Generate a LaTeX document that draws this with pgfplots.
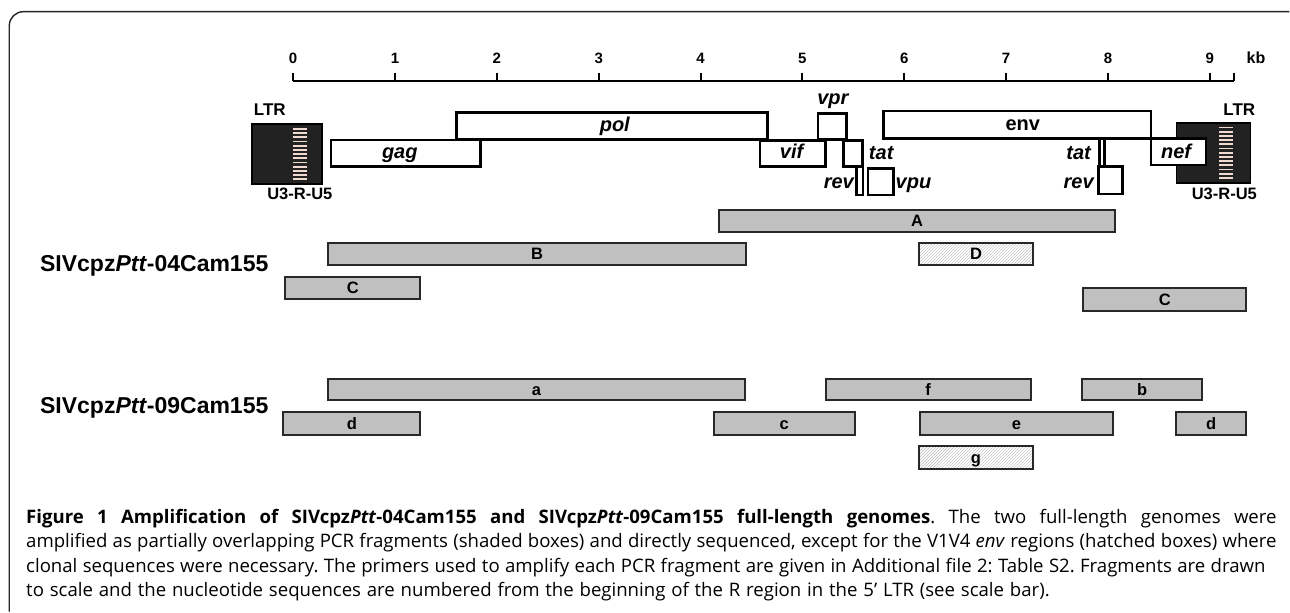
\documentclass[border=0pt]{standalone}
\usepackage{pgfplots}
\pgfplotsset{compat=1.18}
\usetikzlibrary{patterns}
\usepackage{fontspec}
\setmainfont{Liberation Sans}
\newfontfamily\capfont{Open Sans}
\definecolor{fraggray}{RGB}{192,192,192}
\definecolor{edge}{RGB}{40,40,40}
\definecolor{ltrfill}{RGB}{34,34,34}
\definecolor{stripe}{RGB}{240,218,208}
\tikzset{
  genelab/.style={anchor=base, inner sep=0pt, font=\bfseries\itshape\fontsize{20}{24}\selectfont},
  uplab/.style={anchor=base, inner sep=0pt, font=\bfseries\fontsize{17}{20}\selectfont},
  fraglab/.style={anchor=base, inner sep=0pt, font=\bfseries\fontsize{16.5}{19}\selectfont},
  caplab/.style={anchor=base west, inner sep=0pt, font=\capfont\fontsize{18.6}{22}\selectfont\frenchspacing},
}
\newcommand{\gene}[4]{\addplot[draw=black, fill=white, line width=2.6pt] coordinates {(#1,#3) (#2,#3) (#2,#4) (#1,#4)} -- cycle;}
\newcommand{\ltr}[4]{\addplot[draw=black, fill=ltrfill, line width=1.5pt] coordinates {(#1,#3) (#2,#3) (#2,#4) (#1,#4)} -- cycle;}
\newcommand{\frag}[4]{\addplot[draw=edge, fill=fraggray, line width=2pt] coordinates {(#1,#3) (#2,#3) (#2,#4) (#1,#4)} -- cycle;}
\newcommand{\hatchfrag}[4]{\addplot[draw=edge, fill=white, line width=2pt, postaction={pattern=north east lines, pattern color=gray!55}] coordinates {(#1,#3) (#2,#3) (#2,#4) (#1,#4)} -- cycle;}
\begin{document}
\begin{tikzpicture}
\begin{axis}[
  x=101.9pt, y=1pt, y dir=reverse,
  xmin=-2.8783, xmax=9.7811, ymin=0, ymax=610,
  hide axis, clip=false, scale only axis,
  every axis plot/.append style={mark=none},
]
\path (rel axis cs:0,0) rectangle (rel axis cs:1,1);
% frame
\draw[line width=1.4pt, black!85, rounded corners=14pt] (axis cs:-2.787,612) -- (axis cs:-2.787,11.7) -- (axis cs:9.781,11.7);

% scale bar
\addplot[black, line width=2pt] coordinates {(0,80.7) (9.235,80.7)};
\pgfplotsinvokeforeach{0,1,2,3,4,5,6,7,8,9}{
  \addplot[black, line width=2pt] coordinates {(#1,72.7) (#1,80.7)};
  \node[anchor=base, inner sep=0pt, font=\bfseries\fontsize{15}{17}\selectfont] at (axis cs:#1,63.3) {#1};
}
\addplot[black, line width=2pt] coordinates {(9.235,72.7) (9.235,80.7)};
\node[anchor=base, inner sep=0pt, font=\bfseries\fontsize{16}{18}\selectfont] at (axis cs:9.454,63.3) {kb};

% genes
\gene{1.604}{4.656}{112.7}{139.3}
\gene{0.370}{1.842}{140}{166.7}
\gene{4.582}{5.228}{140.3}{166.7}
\gene{5.152}{5.431}{113.3}{139.3}
\gene{5.404}{5.588}{140.3}{166.7}
\gene{5.529}{5.594}{166.7}{195}
\gene{5.643}{5.895}{168.3}{195}
\gene{5.797}{8.424}{111}{138.3}
\gene{7.917}{7.966}{138.3}{166.7}
\gene{7.910}{8.145}{166.7}{194.3}
\ltr{8.675}{9.398}{123.3}{183.3}
\gene{8.424}{8.964}{138.3}{165}
\ltr{-0.402}{0.285}{124}{184}
\pgfplotsinvokeforeach{129,133.2,137.4,141.6,145.8,150,154.2,158.4,162.6,166.8,171,175.2,179.4}{
  \draw[stripe, line width=1.8pt] (axis cs:0.0,#1) -- (axis cs:0.1315,#1);
}
\pgfplotsinvokeforeach{127.5,131.7,135.9,140.1,144.3,148.5,152.7,156.9,161.1,165.3,169.5,173.7,177.9}{
  \draw[stripe, line width=1.8pt] (axis cs:9.094,#1) -- (axis cs:9.225,#1);
}
% gene labels
\node[genelab] at (axis cs:3.158,132) {pol};
\node[genelab] at (axis cs:1.047,159) {gag};
\node[genelab] at (axis cs:4.894,159) {vif};
\node[genelab] at (axis cs:5.299,105) {vpr};
\node[genelab] at (axis cs:5.774,160) {tat};
\node[genelab] at (axis cs:5.358,188.5) {rev};
\node[genelab] at (axis cs:6.091,188.5) {vpu};
\node[anchor=base, inner sep=0pt, font=\bfseries\fontsize{20}{24}\selectfont] at (axis cs:7.164,131) {env};
\node[genelab] at (axis cs:7.713,160) {tat};
\node[genelab] at (axis cs:7.713,188.5) {rev};
\node[genelab] at (axis cs:8.669,158.5) {nef};
\node[uplab] at (axis cs:-0.229,115.5) {LTR};
\node[uplab] at (axis cs:9.290,115.5) {LTR};
\node[uplab, font=\bfseries\fontsize{16.5}{19}\selectfont] at (axis cs:0.066,200) {U3-R-U5};
\node[uplab, font=\bfseries\fontsize{16.5}{19}\selectfont] at (axis cs:9.143,200) {U3-R-U5};

% fragments, SIVcpzPtt-04Cam155
\frag{4.181}{8.071}{210}{231.7}
\frag{0.343}{4.449}{243.3}{265}
\hatchfrag{6.143}{7.269}{243.3}{265}
\frag{-0.081}{1.250}{277.3}{299.3}
\frag{7.760}{9.356}{288.3}{310.7}
\node[fraglab] at (axis cs:6.126,226.5) {A};
\node[fraglab] at (axis cs:2.396,260) {B};
\node[fraglab] at (axis cs:6.706,260) {D};
\node[fraglab] at (axis cs:0.585,294) {C};
\node[fraglab] at (axis cs:8.558,305.5) {C};

% fragments, SIVcpzPtt-09Cam155
\frag{0.343}{4.433}{379}{400.7}
\frag{5.228}{7.240}{379}{400.7}
\frag{7.747}{8.924}{379}{400.7}
\frag{-0.098}{1.250}{412.3}{435.7}
\frag{4.129}{5.512}{412.3}{435.7}
\frag{6.150}{8.054}{412.3}{435.7}
\frag{8.669}{9.356}{412.3}{435.7}
\hatchfrag{6.143}{7.262}{446.7}{469.3}
\node[fraglab] at (axis cs:2.388,395.5) {a};
\node[fraglab] at (axis cs:6.234,395.5) {f};
\node[fraglab] at (axis cs:8.336,395.5) {b};
\node[fraglab] at (axis cs:0.576,429.8) {d};
\node[fraglab] at (axis cs:4.821,429.8) {c};
\node[fraglab] at (axis cs:7.102,429.8) {e};
\node[fraglab] at (axis cs:9.013,429.8) {d};
\node[fraglab] at (axis cs:6.703,464) {g};

% strain labels
\node[anchor=base west, inner sep=0pt, font=\bfseries\fontsize{23}{27}\selectfont] at (axis cs:-2.486,271.5) {SIVcpz\textit{Ptt}-04Cam155};
\node[anchor=base west, inner sep=0pt, font=\bfseries\fontsize{23}{27}\selectfont] at (axis cs:-2.486,414) {SIVcpz\textit{Ptt}-09Cam155};

% caption
\node[caplab] at (axis cs:-2.623,524) {\makebox[1251pt][s]{\textbf{Figure 1 Amplification of SIVcpz\textit{Ptt}-04Cam155 and SIVcpz\textit{Ptt}-09Cam155 full-length genomes}. The two full-length genomes were}};
\node[caplab] at (axis cs:-2.623,548.2) {\makebox[1251pt][s]{amplified as partially overlapping PCR fragments (shaded boxes) and directly sequenced, except for the V1V4 \textit{env} regions (hatched boxes) where}};
\node[caplab] at (axis cs:-2.623,572.4) {\makebox[1240pt][s]{clonal sequences were necessary. The primers used to amplify each PCR fragment are given in Additional file 2: Table S2. Fragments are drawn}};
\node[caplab] at (axis cs:-2.623,596.6) {\makebox[1024pt][s]{to scale and the nucleotide sequences are numbered from the beginning of the R region in the 5’ LTR (see scale bar).}};
\end{axis}
\end{tikzpicture}
\end{document}
